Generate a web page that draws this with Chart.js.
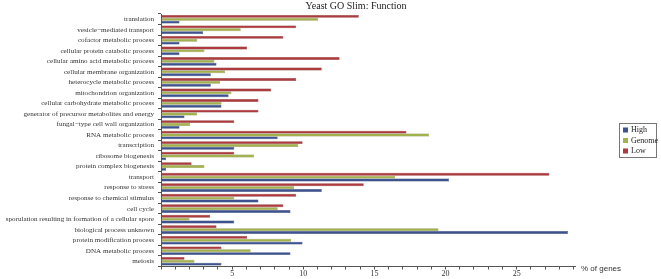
<!DOCTYPE html>
<html lang="en">
<head>
  <meta charset="UTF-8">
  <title>Yeast GO Slim: Function</title>
  <script src="https://cdn.jsdelivr.net/npm/chart.js"></script>
  <style>
    html, body { margin: 0; padding: 0; background: #fff; }
    #wrap { width: 661px; height: 279px; }
  </style>
</head>
<body>
<div id="wrap"><canvas id="goChart" width="661" height="279"></canvas></div>

<script>
  const categories = [
    'translation', 'vesicle\u2212mediated transport', 'cofactor metabolic process',
    'cellular protein catabolic process', 'cellular amino acid metabolic process',
    'cellular membrane organization', 'heterocycle metabolic process',
    'mitochondrion organization', 'cellular carbohydrate metabolic process',
    'generator of precursor metabolites and energy', 'fungal\u2212type cell wall organization',
    'RNA metabolic process', 'transcription', 'ribosome biogenesis',
    'protein complex biogenesis', 'transport', 'response to stress',
    'response to chemical stimulus', 'cell cycle',
    'sporulation resulting in formation of a cellular spore',
    'biological process unknown', 'protein modification process',
    'DNA metabolic process', 'meiosis'
  ];

  const lowValues = [13.9, 9.5, 8.6, 6.05, 12.55, 11.3, 9.5, 7.75, 6.85, 6.85, 5.15, 17.25,
    9.95, 5.15, 2.15, 27.3, 14.25, 9.5, 8.6, 3.45, 3.9, 6.05, 4.25, 1.65];
  const genomeValues = [11.05, 5.6, 2.55, 3.05, 3.75, 4.5, 4.15, 4.95, 4.25, 2.55, 2.05, 18.85,
    9.65, 6.55, 3.05, 16.45, 9.35, 5.15, 8.2, 2.0, 19.5, 9.15, 6.3, 2.35];
  const highValues = [1.3, 2.95, 1.3, 1.3, 3.9, 3.5, 3.5, 4.75, 4.25, 1.65, 1.3, 8.2,
    5.15, 0.35, 0.35, 20.25, 11.3, 6.85, 9.1, 5.15, 28.6, 9.95, 9.1, 4.25];

  const xTicks = [0, 5, 10, 15, 20, 25];
  const xMax = 29.1;

  const colors = { high: '#3d5390', genome: '#a3b14f', low: '#ad3a3c' };
  const borders = { high: '#283a6a', genome: '#7b8636', low: '#7e2426' };

  const serif = '"Liberation Serif", "DejaVu Serif", serif';

  // title, axis caption and legend drawn on the canvas
  const decorPlugin = {
    id: 'decor',
    afterDraw(chart) {
      const c = chart.ctx;
      const area = chart.chartArea;
      c.save();
      c.fillStyle = '#222';
      c.font = '10px ' + serif;
      c.textAlign = 'center';
      c.textBaseline = 'middle';
      c.fillText('Yeast GO Slim: Function', 356, 6);

      c.font = '8px "Liberation Sans", Arial, sans-serif';
      c.textAlign = 'left';
      c.fillStyle = '#333';
      c.fillText('% of genes', area.right + 6, area.bottom + 2);

      // legend box
      const lx = 619, ly = 123, lw = 37, lh = 34;
      c.fillStyle = '#fff';
      c.fillRect(lx, ly, lw, lh);
      c.strokeStyle = '#777';
      c.lineWidth = 1;
      c.strokeRect(lx + 0.5, ly + 0.5, lw, lh);
      const items = [['High', 'high'], ['Genome', 'genome'], ['Low', 'low']];
      c.font = '8px ' + serif;
      items.forEach((it, i) => {
        const y = ly + 7 + i * 10.5;
        c.fillStyle = colors[it[1]];
        c.fillRect(lx + 4, y - 2.5, 5, 5);
        c.fillStyle = '#222';
        c.fillText(it[0], lx + 12, y);
      });
      c.restore();
    }
  };

  const ctx = document.getElementById('goChart');
  new Chart(ctx, {
    type: 'bar',
    data: {
      labels: categories,
      datasets: [
        { label: 'Low', data: lowValues, backgroundColor: colors.low, borderColor: borders.low, borderWidth: 0.5 },
        { label: 'Genome', data: genomeValues, backgroundColor: colors.genome, borderColor: borders.genome, borderWidth: 0.5 },
        { label: 'High', data: highValues, backgroundColor: colors.high, borderColor: borders.high, borderWidth: 0.5 }
      ]
    },
    options: {
      indexAxis: 'y',
      responsive: false,
      animation: false,
      datasets: { bar: { categoryPercentage: 0.82, barPercentage: 1 } },
      layout: { padding: { top: 14, right: 86, bottom: 0, left: 0 } },
      plugins: {
        legend: { display: false },
        title: { display: false },
        tooltip: { enabled: false }
      },
      scales: {
        x: {
          type: 'linear',
          min: 0,
          max: xMax,
          afterFit(scale) { scale.height = 12.5; },
          afterBuildTicks(scale) {
            const t = [];
            for (let v = 0; v <= 29; v++) t.push({ value: v });
            scale.ticks = t;
          },
          border: { display: true, color: '#555', width: 1 },
          grid: { drawOnChartArea: false, drawTicks: true, tickLength: 3, color: '#555' },
          ticks: {
            autoSkip: false,
            maxRotation: 0,
            padding: 0,
            font: { family: serif, size: 8 },
            color: '#333',
            callback: (v) => (xTicks.includes(v) && v !== 0 ? String(v) : '')
          }
        },
        y: {
          afterFit(scale) { scale.width = 161; },
          border: { display: true, color: '#555', width: 1 },
          grid: { drawOnChartArea: false, drawTicks: true, tickLength: 3, offset: true, color: '#555' },
          ticks: {
            autoSkip: false,
            padding: 4,
            font: { family: serif, size: 7.1 },
            color: '#333'
          }
        }
      }
    },
    plugins: [decorPlugin]
  });
</script>
</body>
</html>
